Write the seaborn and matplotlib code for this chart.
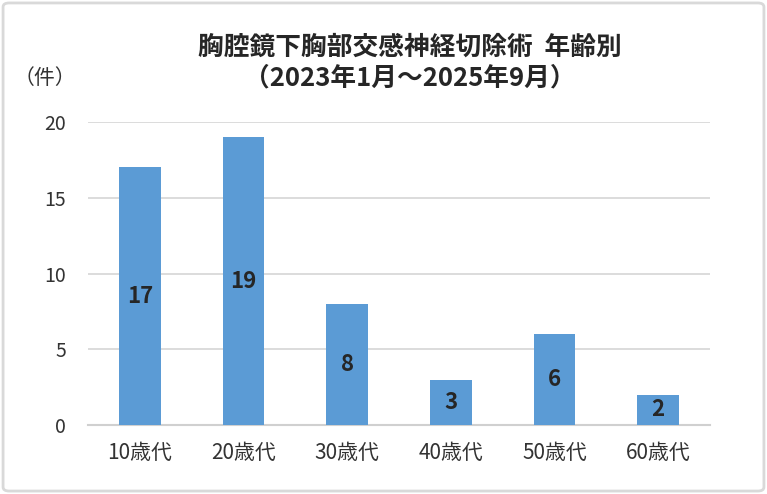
import matplotlib
matplotlib.use("Agg")
import matplotlib.pyplot as plt
import seaborn as sns
import pandas as pd
from matplotlib.patches import FancyBboxPatch

categories = ["10歳代", "20歳代", "30歳代", "40歳代", "50歳代", "60歳代"]
values = [17, 19, 8, 3, 6, 2]
yticks = [0, 5, 10, 15, 20]
title_line1 = "胸腔鏡下胸部交感神経切除術  年齢別"
title_line2 = "（2023年1月～2025年9月）"
unit_label = "（件）"

sns.set_theme(style="white")
plt.rcParams["font.family"] = ["Noto Sans CJK JP", "DejaVu Sans"]

df = pd.DataFrame({"age": categories, "count": values})

fig = plt.figure(figsize=(7.67, 4.94), dpi=100)
ax = fig.add_axes([88 / 767, 1 - 425 / 494, (710 - 88) / 767, (425 - 122) / 494])

sns.barplot(data=df, x="age", y="count", color="#5B9BD5", saturation=1,
            width=0.4, linewidth=0, edgecolor="none", ax=ax, zorder=3)

ax.set_ylim(0, 20)
ax.set_yticks(yticks)
ax.set_xlim(-0.5, len(categories) - 0.5)
ax.grid(axis="y", color="#d9d9d9", linewidth=1.3, zorder=0)
ax.grid(axis="x", visible=False)
for s in ["left", "right", "top"]:
    ax.spines[s].set_visible(False)
ax.spines["bottom"].set_color("#d0d0d0")
ax.spines["bottom"].set_linewidth(1.5)
ax.set_xlabel("")
ax.set_ylabel("")
ax.tick_params(axis="y", length=0, pad=16, labelsize=14, labelcolor="#333333")
ax.tick_params(axis="x", length=0, pad=12, labelsize=15, labelcolor="#333333")

for cont in ax.containers:
    for bar, v in zip(cont, values):
        ax.text(bar.get_x() + bar.get_width() / 2, v / 2, str(v),
                ha="center", va="center", fontsize=16, fontweight="bold",
                color="#262626", zorder=4)

fig.text(410 / 767, 1 - 47 / 494, title_line1, ha="center", va="center",
         fontsize=18.5, fontweight="bold", color="#262626")
fig.text(410 / 767, 1 - 78 / 494, title_line2, ha="center", va="center",
         fontsize=18.5, fontweight="bold", color="#262626")
fig.text(45 / 767, 1 - 78 / 494, unit_label, ha="center", va="center",
         fontsize=15, color="#333333")

border = FancyBboxPatch((0.004, 0.006), 0.992, 0.988, boxstyle="round,pad=0,rounding_size=0.008",
                        transform=fig.transFigure, fill=False, edgecolor="#d9d9d9",
                        linewidth=2, zorder=10)
fig.patches.append(border)

fig.savefig("out.png", dpi=100, facecolor="white")
